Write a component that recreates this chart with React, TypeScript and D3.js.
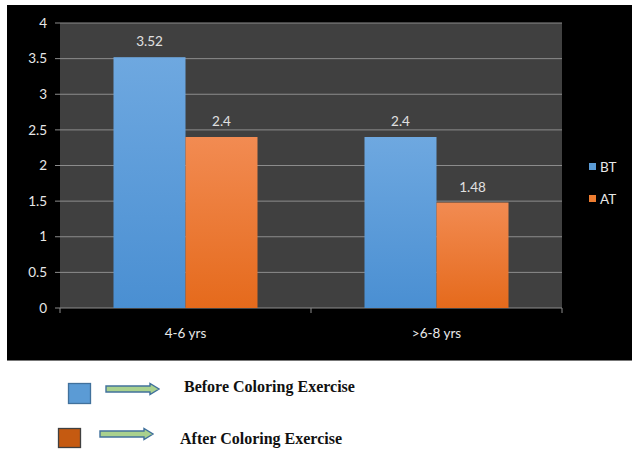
import React from "react";
import * as d3 from "d3";

const categories = ["4-6 yrs", ">6-8 yrs"];
const seriesNames = ["BT", "AT"];
const btValues = [3.52, 2.4];
const atValues = [2.4, 1.48];
const yTicks = [0, 0.5, 1, 1.5, 2, 2.5, 3, 3.5, 4];
const noteLabels = ["Before Coloring  Exercise", "After Coloring  Exercise"];

const W = 632;
const H = 450;
const plot = { left: 60, right: 562, top: 23, bottom: 308 };
const font = "Lato, 'Open Sans', sans-serif";

export default function App() {
  const y = d3.scaleLinear().domain([0, 4]).range([plot.bottom, plot.top]);
  const x0 = d3
    .scaleBand<string>()
    .domain(categories)
    .range([plot.left, plot.right])
    .paddingInner(0)
    .paddingOuter(0);
  const barW = 72;
  const x1 = d3
    .scaleBand<string>()
    .domain(seriesNames)
    .range([0, barW * 2]);
  const series = [btValues, atValues];
  const fills = ["url(#gBlue)", "url(#gOrange)"];
  const legendColors = ["#5b9bd5", "#ed7d31"];

  const arrow = (x: number, yc: number, len: number) => {
    const sh = 3;
    const hh = 5.5;
    const hl = 9;
    const pts: [number, number][] = [
      [x, yc - sh],
      [x + len - hl, yc - sh],
      [x + len - hl, yc - hh],
      [x + len, yc],
      [x + len - hl, yc + hh],
      [x + len - hl, yc + sh],
      [x, yc + sh],
    ];
    return (
      <path
        d={(d3.line()(pts) as string) + "Z"}
        fill="#a9d18e"
        stroke="#41719c"
        strokeWidth={1.4}
      />
    );
  };

  return (
    <svg
      width={W}
      height={H}
      style={{ position: "fixed", left: 0, top: 0, background: "#fff" }}
    >
      <defs>
        <linearGradient id="gBlue" x1="0" y1="0" x2="0" y2="1">
          <stop offset="0" stopColor="#6ea8e0" />
          <stop offset="1" stopColor="#4a8fd2" />
        </linearGradient>
        <linearGradient id="gOrange" x1="0" y1="0" x2="0" y2="1">
          <stop offset="0" stopColor="#f28b52" />
          <stop offset="1" stopColor="#e56a1c" />
        </linearGradient>
      </defs>
      <rect x={0} y={0} width={W} height={H} fill="#fff" />
      <rect x={7} y={5} width={W - 7} height={355} fill="#000" />
      <line x1={7} x2={W} y1={360.5} y2={360.5} stroke="#777" strokeWidth={1} />
      <rect
        x={plot.left}
        y={plot.top}
        width={plot.right - plot.left}
        height={plot.bottom - plot.top}
        fill="#404040"
      />
      {yTicks.map((t) => (
        <g key={t}>
          {t > 0 && (
            <line
              x1={plot.left}
              x2={plot.right}
              y1={y(t)}
              y2={y(t)}
              stroke="#8c8c8c"
              strokeWidth={1}
            />
          )}
          <line x1={plot.left - 5} x2={plot.left} y1={y(t)} y2={y(t)} stroke="#8c8c8c" />
          <text
            x={47}
            y={y(t)}
            dy="0.35em"
            textAnchor="end"
            fill="#e8e8e8"
            fontSize={13.5}
            fontFamily={font}
          >
            {t}
          </text>
        </g>
      ))}
      <line
        x1={plot.left}
        x2={plot.right}
        y1={plot.bottom}
        y2={plot.bottom}
        stroke="#8c8c8c"
      />
      {[plot.left, plot.left + x0.bandwidth(), plot.right].map((xx, i) => (
        <line key={i} x1={xx} x2={xx} y1={plot.bottom} y2={plot.bottom + 5} stroke="#8c8c8c" />
      ))}
      {categories.map((c, ci) => {
        const gx = (x0(c) as number) + x0.bandwidth() / 2 - barW;
        return (
          <g key={c}>
            {seriesNames.map((s, si) => {
              const v = series[si][ci];
              const bx = gx + (x1(s) as number);
              return (
                <g key={s}>
                  <rect
                    x={bx}
                    y={y(v)}
                    width={x1.bandwidth()}
                    height={plot.bottom - y(v)}
                    fill={fills[si]}
                  />
                  <text
                    x={bx + x1.bandwidth() / 2}
                    y={y(v) - 11}
                    textAnchor="middle"
                    fill="#e0e0e0"
                    fontSize={13.5}
                    fontFamily={font}
                  >
                    {v}
                  </text>
                </g>
              );
            })}
            <text
              x={(x0(c) as number) + x0.bandwidth() / 2}
              y={338}
              textAnchor="middle"
              fill="#e8e8e8"
              fontSize={13.5}
              fontFamily={font}
            >
              {c}
            </text>
          </g>
        );
      })}
      {seriesNames.map((s, i) => (
        <g key={s} transform={`translate(589, ${167 + i * 32})`}>
          <rect x={0} y={-4} width={7} height={7} fill={legendColors[i]} />
          <text x={11} y={0} dy="0.35em" fill="#e8e8e8" fontSize={13.5} fontFamily={font}>
            {s}
          </text>
        </g>
      ))}
      <rect x={68.5} y={383.5} width={22} height={20} fill="#5b9bd5" stroke="#41719c" strokeWidth={1.3} />
      {arrow(106, 389, 53)}
      <text
        x={184}
        y={386}
        dy="0.35em"
        fill="#111"
        fontSize={16}
        fontWeight="bold"
        fontFamily="'Liberation Serif', 'Times New Roman', serif"
      >
        {noteLabels[0]}
      </text>
      <rect x={58.5} y={428.5} width={22} height={19} fill="#c55a11" stroke="#404040" strokeWidth={1.3} />
      {arrow(100, 434, 53)}
      <text
        x={180}
        y={438}
        dy="0.35em"
        fill="#111"
        fontSize={16}
        fontWeight="bold"
        fontFamily="'Liberation Serif', 'Times New Roman', serif"
      >
        {noteLabels[1]}
      </text>
    </svg>
  );
}
